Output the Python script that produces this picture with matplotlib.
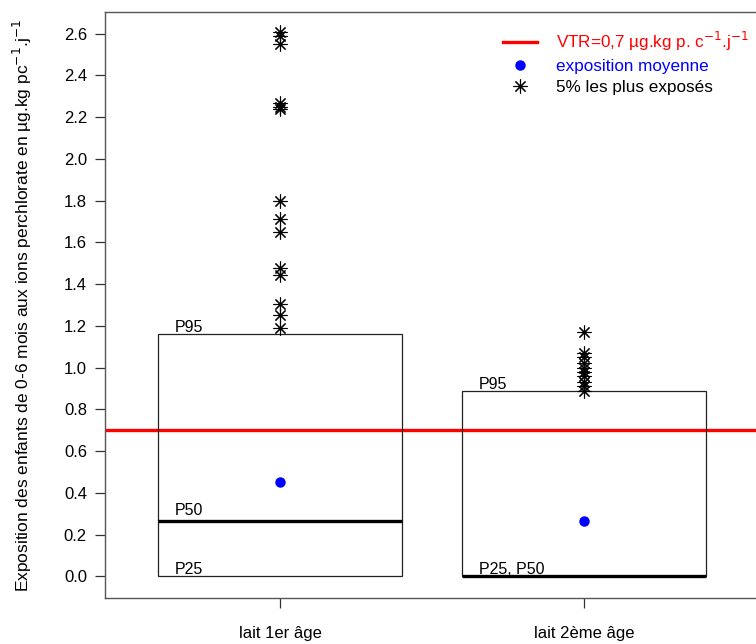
import numpy as np
import matplotlib.pyplot as plt
from matplotlib.lines import Line2D
from matplotlib.patches import Rectangle

plt.rcParams['font.family'] = ['Liberation Sans', 'DejaVu Sans']

groups = ['lait 1er âge', 'lait 2ème âge']
p25 = [0.0, 0.0]
p50 = [0.264, 0.0]
p95 = [1.161, 0.887]
means = [0.451, 0.264]
vtr = 0.7
top5_g1 = [2.61, 2.59, 2.55, 2.27, 2.25, 2.24, 1.80, 1.71, 1.65, 1.475, 1.445,
           1.305, 1.25, 1.19]
top5_g2 = [1.17, 1.07, 1.05, 1.02, 1.00, 0.98, 0.96, 0.93, 0.91, 0.89]
box_labels = [('P95', 'P50', 'P25'), ('P95', None, 'P25, P50')]
yticks = np.arange(0, 2.61, 0.2)

fig = plt.figure(figsize=(7.56, 6.44), dpi=100)
ax = fig.add_axes([105/756, 46/644, 654/756, 586/644])

xs = np.arange(1, len(groups) + 1)
w = 0.8

ax.axhline(vtr, color='#ff0000', lw=2.4, zorder=1)

for i, x in enumerate(xs):
    ax.add_patch(Rectangle((x - w/2, p25[i]), w, p95[i] - p25[i],
                           fill=False, ec='#222222', lw=0.9, zorder=2))
    ax.plot([x - w/2, x + w/2], [p50[i], p50[i]], color='black', lw=2.4,
            solid_capstyle='butt', zorder=3)
    hi, mid, lo = box_labels[i]
    ax.text(x - w/2 + 0.055, p95[i] - 0.004, hi, fontsize=11.5, va='bottom')
    if mid:
        ax.text(x - w/2 + 0.055, p50[i] + 0.015, mid, fontsize=11.5, va='bottom')
    ax.text(x - w/2 + 0.055, p25[i] - 0.004, lo, fontsize=11.5, va='bottom')

ax.plot(np.full(len(top5_g1), xs[0]), top5_g1, ls='none', marker=(8, 2, 0),
        ms=10, mew=0.8, color='black', zorder=4)
ax.plot(np.full(len(top5_g2), xs[1]), top5_g2, ls='none', marker=(8, 2, 0),
        ms=10, mew=0.8, color='black', zorder=4)
ax.plot(xs, means, ls='none', marker='o', ms=6.5, color='#0000ff', zorder=4)

ax.set_xlim(0.424, 2.576)
ax.set_ylim(-0.104, 2.704)
ax.set_xticks(xs)
ax.set_xticklabels(groups, fontsize=12)
ax.set_yticks(yticks)
ax.set_yticklabels(['%.1f' % v for v in yticks], fontsize=12)
ax.tick_params(direction='out', length=7, width=0.9, colors='#333333',
               labelcolor='black', pad=6)
ax.tick_params(axis='x', pad=13)
for s in ax.spines.values():
    s.set_color('#555555')
    s.set_linewidth(1.0)

ax.set_ylabel('Exposition des enfants de 0-6 mois aux ions perchlorate en '
              'µg.kg pc$^{-1}$.j$^{-1}$', fontsize=12.5)
ax.yaxis.set_label_coords(-0.108, 0.5)

handles = [
    Line2D([], [], color='#ff0000', lw=2.4),
    Line2D([], [], ls='none', marker='o', ms=6.5, color='#0000ff'),
    Line2D([], [], ls='none', marker=(8, 2, 0), ms=10, mew=0.8, color='black'),
]
labels = ['VTR=0,7 µg.kg p. c$^{-1}$.j$^{-1}$', 'exposition moyenne',
          '5% les plus exposés']
leg = ax.legend(handles, labels, loc='upper left',
                bbox_to_anchor=(494/756, 1 - 21/644),
                bbox_transform=fig.transFigure, frameon=False, fontsize=12.3,
                handlelength=2.0, handletextpad=1.1, labelspacing=0.35,
                borderpad=0)
for t, c in zip(leg.get_texts(), ['#ff0000', '#0000ff', 'black']):
    t.set_color(c)

fig.savefig('out.png', dpi=100)
